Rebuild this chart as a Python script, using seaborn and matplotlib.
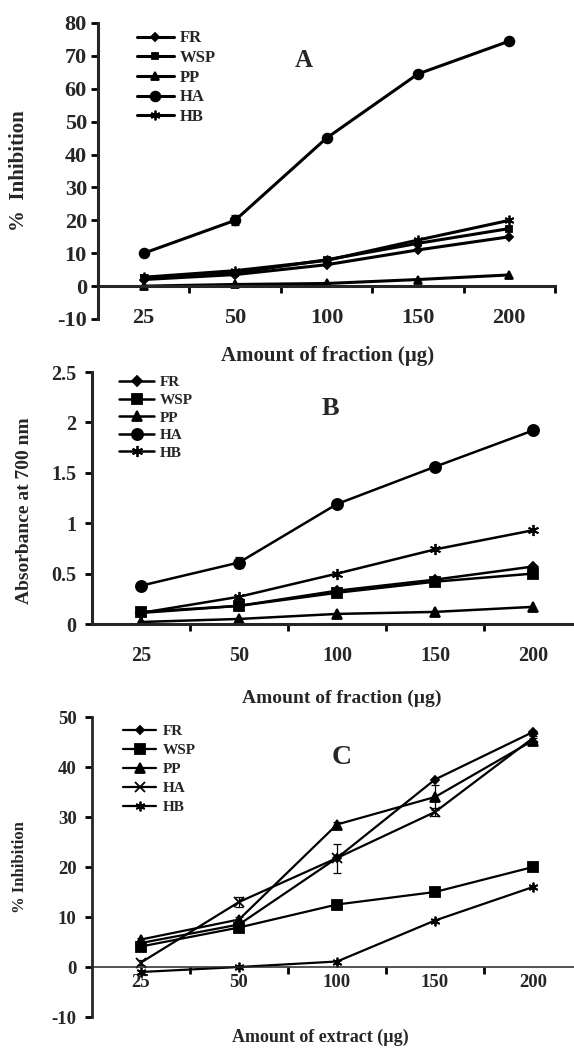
import matplotlib
matplotlib.use('Agg')
import matplotlib.pyplot as plt
import matplotlib.ticker as mticker
import seaborn as sns
import numpy as np

# Eixo x comum aos três painéis
quantidades = ['25', '50', '100', '150', '200']
fracoes = ['FR', 'WSP', 'PP', 'HA', 'HB']

# Painel A - % inibição
a_fr = [2.0, 3.5, 6.5, 11.0, 15.0]
a_wsp = [2.5, 4.0, 8.0, 13.0, 17.5]
a_pp = [0.0, 0.5, 0.8, 2.0, 3.4]
a_ha = [10.0, 20.0, 45.0, 64.5, 74.5]
a_hb = [2.7, 4.7, 7.8, 14.0, 20.0]
a_ha_err = [0.5, 1.5, 0.8, 0.6, 0.5]

# Painel B - absorbância a 700 nm
b_fr = [0.11, 0.18, 0.33, 0.44, 0.57]
b_wsp = [0.12, 0.18, 0.31, 0.42, 0.50]
b_pp = [0.02, 0.05, 0.10, 0.12, 0.17]
b_ha = [0.38, 0.61, 1.19, 1.56, 1.92]
b_hb = [0.11, 0.27, 0.50, 0.74, 0.93]
b_ha_err = [0.04, 0.05, 0.02, 0.03, 0.02]

# Painel C - % inibição
c_fr = [4.8, 8.5, 21.8, 37.5, 47.0]
c_wsp = [4.1, 7.9, 12.5, 15.0, 20.0]
c_pp = [5.5, 9.5, 28.5, 34.0, 45.3]
c_ha = [0.9, 13.0, 21.8, 31.0, 45.8]
c_hb = [-1.0, 0.0, 1.1, 9.3, 16.0]
c_ha_err = [0.5, 1.0, 2.9, 0.8, 0.5]
c_pp_err = [0.4, 0.5, 0.5, 2.5, 0.5]

sns.set_style('ticks')
plt.rcParams['font.family'] = ['Liberation Serif', 'DejaVu Serif']
plt.rcParams['font.weight'] = 'bold'
plt.rcParams['axes.labelweight'] = 'bold'
plt.rcParams['axes.unicode_minus'] = False

ASTERISCO = (6, 2, 0)


def desenhar_painel(ax, series, marcadores, tamanhos, lw, erros):
    pos = np.arange(len(quantidades))
    for nome in fracoes:
        sns.lineplot(x=pos, y=series[nome], ax=ax, color='black', linewidth=lw,
                     marker=marcadores[nome], markersize=tamanhos[nome],
                     markeredgecolor='black', markerfacecolor='black',
                     markeredgewidth=1.3, label=nome)
    for nome, e in erros.items():
        ax.errorbar(pos, series[nome], yerr=e, fmt='none', ecolor='black',
                    elinewidth=0.9, capsize=3, capthick=0.9, zorder=1)

    # ticks nos limites das categorias, rótulos no centro (estilo Excel)
    ax.set_xlim(-0.5, len(quantidades) - 0.5)
    ax.set_xticks(pos + 0.5)
    ax.set_xticklabels([])
    ax.set_xticks(pos, minor=True)
    ax.set_xticklabels(quantidades, minor=True)
    ax.tick_params(axis='x', which='minor', length=0)
    ax.tick_params(axis='both', which='major', direction='out', length=5, width=2, color='black')
    ax.spines[['top', 'right']].set_visible(False)
    ax.set_xlabel('')
    ax.set_ylabel('')


fig = plt.figure(figsize=(5.74, 10.49), dpi=100)
W, H = 574, 1049
ax_a = fig.add_axes([98 / W, 1 - 319 / H, 457 / W, 296 / H])
ax_b = fig.add_axes([92 / W, 1 - 624 / H, 490 / W, 252 / H])
ax_c = fig.add_axes([92 / W, 1 - 1017 / H, 490 / W, 300 / H])

# ---- A ----
desenhar_painel(ax_a,
                {'FR': a_fr, 'WSP': a_wsp, 'PP': a_pp, 'HA': a_ha, 'HB': a_hb},
                {'FR': 'D', 'WSP': 's', 'PP': '^', 'HA': 'o', 'HB': ASTERISCO},
                {'FR': 4.5, 'WSP': 5, 'PP': 5.5, 'HA': 7, 'HB': 7},
                2.2, {'HA': a_ha_err})
ax_a.set_ylim(-10, 80)
ax_a.set_yticks(range(-10, 81, 10))
ax_a.spines['bottom'].set_position(('data', 0))
for s in ax_a.spines.values():
    s.set_linewidth(2.2)
ax_a.tick_params(axis='y', labelsize=16, pad=3)
ax_a.tick_params(axis='x', which='minor', labelsize=16, pad=16)
ax_a.set_ylabel('%  Inhibition', fontsize=15)
ax_a.yaxis.set_label_coords(-0.15, 0.5)
ax_a.set_xlabel('Amount of fraction (µg)', fontsize=15)
ax_a.xaxis.set_label_coords(0.503, -0.09)
ax_a.text(1.75, 68.5, 'A', fontsize=18, ha='center', va='center')
ax_a.legend(loc='upper left', bbox_to_anchor=(0.085, 0.975), frameon=False,
            fontsize=12, handlelength=2.2, handletextpad=0.4, labelspacing=0.22,
            borderpad=0, borderaxespad=0)

# ---- B ----
desenhar_painel(ax_b,
                {'FR': b_fr, 'WSP': b_wsp, 'PP': b_pp, 'HA': b_ha, 'HB': b_hb},
                {'FR': 'D', 'WSP': 's', 'PP': '^', 'HA': 'o', 'HB': ASTERISCO},
                {'FR': 5.5, 'WSP': 7, 'PP': 7, 'HA': 8, 'HB': 8},
                1.8, {'HA': b_ha_err})
ax_b.set_ylim(0, 2.5)
ax_b.set_yticks([0, 0.5, 1, 1.5, 2, 2.5])
ax_b.yaxis.set_major_formatter(mticker.FuncFormatter(lambda v, p: f'{v:g}'))
for s in ax_b.spines.values():
    s.set_linewidth(2.2)
ax_b.tick_params(axis='y', labelsize=14.5, pad=6)
ax_b.tick_params(axis='x', which='minor', labelsize=14.5, pad=16)
ax_b.set_ylabel('Absorbance at 700 nm', fontsize=14)
ax_b.yaxis.set_label_coords(-0.12, 0.45)
ax_b.set_xlabel('Amount of fraction (µg)', fontsize=14)
ax_b.xaxis.set_label_coords(0.51, -0.26)
ax_b.text(1.93, 2.14, 'B', fontsize=19, ha='center', va='center')
ax_b.legend(loc='upper left', bbox_to_anchor=(0.055, 0.985), frameon=False,
            fontsize=11, handlelength=2.3, handletextpad=0.4, labelspacing=0.25,
            borderpad=0, borderaxespad=0)

# ---- C ----
desenhar_painel(ax_c,
                {'FR': c_fr, 'WSP': c_wsp, 'PP': c_pp, 'HA': c_ha, 'HB': c_hb},
                {'FR': 'D', 'WSP': 's', 'PP': '^', 'HA': 'x', 'HB': ASTERISCO},
                {'FR': 4, 'WSP': 7, 'PP': 7, 'HA': 6.5, 'HB': 7},
                1.6, {'HA': c_ha_err, 'PP': c_pp_err})
ax_c.set_ylim(-10, 50)
ax_c.set_yticks(range(-10, 51, 10))
ax_c.spines['bottom'].set_position(('data', 0))
ax_c.spines['left'].set_linewidth(2.0)
ax_c.spines['bottom'].set_linewidth(1.1)
ax_c.tick_params(axis='y', labelsize=13.5, pad=6)
ax_c.tick_params(axis='x', which='minor', labelsize=13.5, pad=5)
ax_c.set_ylabel('% Inhibition', fontsize=12)
ax_c.yaxis.set_label_coords(-0.13, 0.5)
ax_c.set_xlabel('Amount of extract (µg)', fontsize=13)
ax_c.xaxis.set_label_coords(0.465, -0.04)
ax_c.text(2.05, 41.8, 'C', fontsize=20, ha='center', va='center')
ax_c.legend(loc='upper left', bbox_to_anchor=(0.063, 0.975), frameon=False,
            fontsize=11, handlelength=2.2, handletextpad=0.4, labelspacing=0.35,
            borderpad=0, borderaxespad=0)

fig.savefig('out.png', dpi=100)
plt.close(fig)
